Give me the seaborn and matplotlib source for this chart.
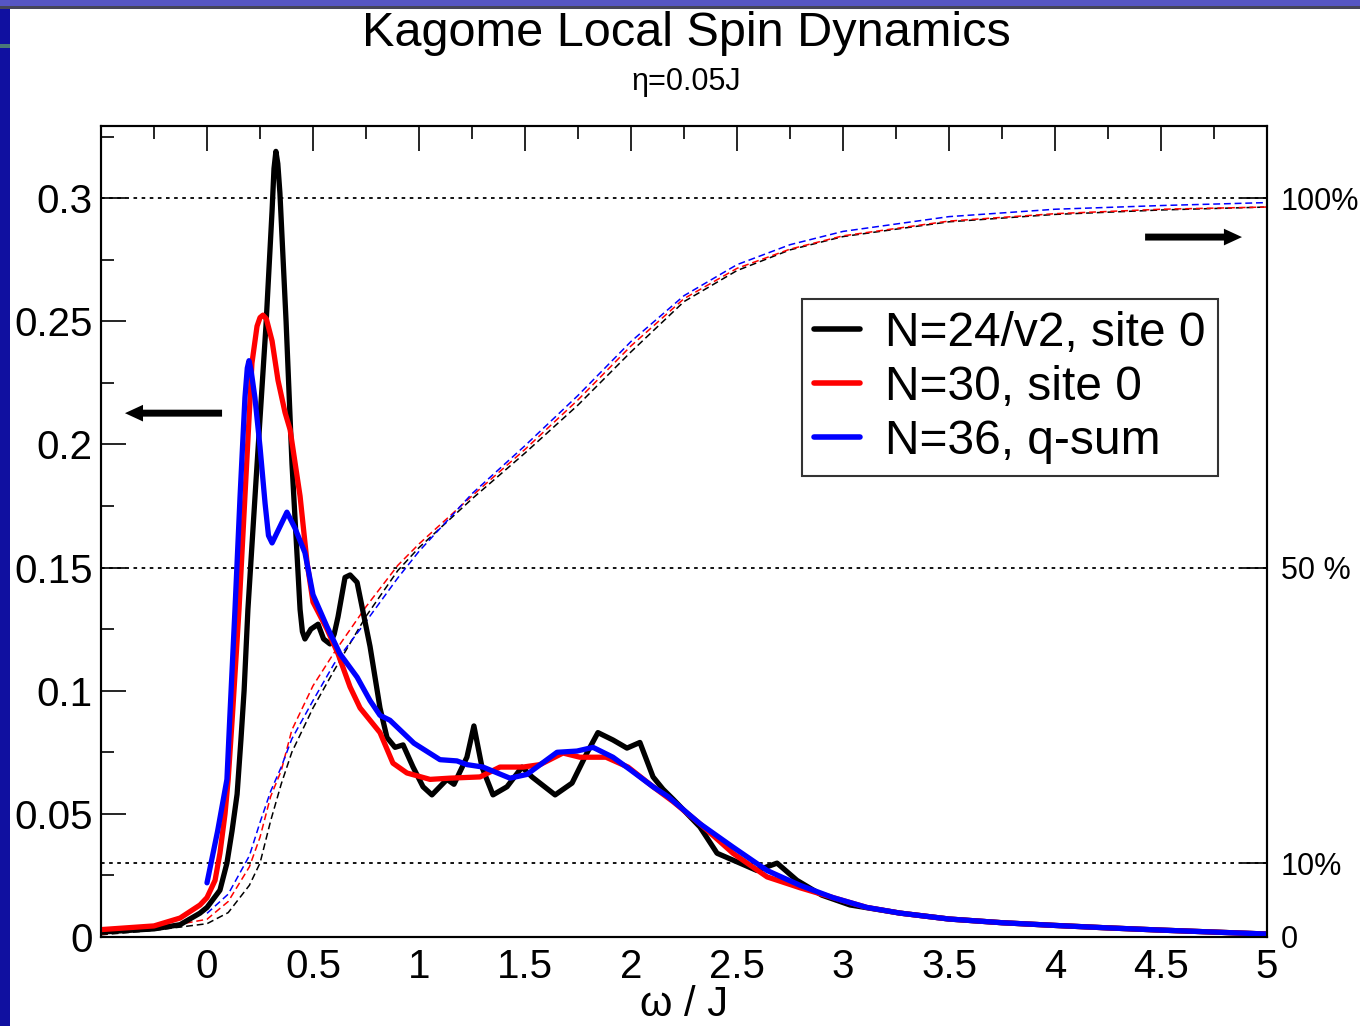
import numpy as np
import pandas as pd
import matplotlib
matplotlib.use("Agg")
import matplotlib.pyplot as plt
import seaborn as sns
from matplotlib.patches import Rectangle

# ---------------- data ----------------
series_names = ["N=24/v2, site 0", "N=30, site 0", "N=36, q-sum"]
series_colors = ["#000000", "#ff0000", "#0000ff"]

omega_n24 = [-0.5, -0.25, -0.127, -0.033, 0.0, 0.061, 0.094, 0.118, 0.142, 0.160, 0.175,
             0.193, 0.231, 0.278, 0.307, 0.316, 0.325, 0.334, 0.344, 0.373, 0.401, 0.439,
             0.450, 0.462, 0.490, 0.524, 0.550, 0.580, 0.600, 0.618, 0.651, 0.675, 0.708,
             0.769, 0.816, 0.849, 0.887, 0.925, 0.972, 1.019, 1.061, 1.132, 1.165, 1.226,
             1.259, 1.297, 1.349, 1.415, 1.486, 1.533, 1.642, 1.722, 1.792, 1.844, 1.915,
             1.981, 2.042, 2.104, 2.151, 2.198, 2.325, 2.406, 2.514, 2.594, 2.689, 2.783,
             2.900, 3.033, 3.269, 3.5, 3.75, 4.0, 4.25, 4.5, 4.75, 5.0]
spec_n24 = [0.002, 0.0033, 0.005, 0.0097, 0.012, 0.019, 0.030, 0.043, 0.058, 0.080, 0.100,
            0.133, 0.185, 0.248, 0.295, 0.312, 0.319, 0.314, 0.302, 0.250, 0.192, 0.133,
            0.124, 0.121, 0.125, 0.127, 0.121, 0.119, 0.123, 0.130, 0.146, 0.147, 0.144,
            0.118, 0.093, 0.081, 0.077, 0.078, 0.069, 0.061, 0.0577, 0.064, 0.062, 0.073,
            0.0857, 0.069, 0.0577, 0.061, 0.069, 0.065, 0.0577, 0.0625, 0.0747, 0.083, 0.080,
            0.0767, 0.079, 0.065, 0.060, 0.056, 0.0447, 0.034, 0.030, 0.027, 0.030, 0.023,
            0.017, 0.013, 0.0097, 0.0073, 0.0058, 0.0047, 0.0037, 0.0028, 0.002, 0.0012]

omega_n30 = [-0.5, -0.25, -0.127, -0.033, 0.0, 0.038, 0.061, 0.085, 0.100, 0.120, 0.151,
             0.179, 0.212, 0.236, 0.250, 0.264, 0.280, 0.307, 0.335, 0.368, 0.392, 0.439,
             0.472, 0.500, 0.566, 0.618, 0.675, 0.722, 0.816, 0.877, 0.943, 1.052, 1.146,
             1.288, 1.382, 1.491, 1.571, 1.679, 1.759, 1.882, 1.986, 2.104, 2.198, 2.325,
             2.481, 2.642, 2.797, 2.953, 3.113, 3.269, 3.5, 3.75, 4.0, 4.25, 4.5, 4.75, 5.0]
spec_n30 = [0.003, 0.0045, 0.0077, 0.013, 0.016, 0.023, 0.034, 0.050, 0.064, 0.090, 0.133,
            0.179, 0.233, 0.248, 0.2515, 0.2525, 0.251, 0.242, 0.226, 0.213, 0.206, 0.179,
            0.152, 0.136, 0.125, 0.115, 0.1015, 0.093, 0.083, 0.0706, 0.0666, 0.064, 0.0645,
            0.065, 0.069, 0.069, 0.070, 0.0747, 0.073, 0.073, 0.069, 0.061, 0.055, 0.046,
            0.034, 0.0244, 0.020, 0.016, 0.012, 0.0097, 0.0073, 0.0058, 0.0047, 0.0037,
            0.0028, 0.002, 0.0012]

omega_n36 = [0.0, 0.05, 0.094, 0.108, 0.132, 0.156, 0.179, 0.190, 0.198, 0.208, 0.226,
             0.250, 0.274, 0.290, 0.307, 0.335, 0.377, 0.415, 0.462, 0.500, 0.566, 0.627,
             0.708, 0.769, 0.816, 0.863, 0.976, 1.099, 1.179, 1.226, 1.302, 1.429, 1.509,
             1.651, 1.745, 1.821, 1.915, 1.995, 2.104, 2.175, 2.325, 2.481, 2.642, 2.797,
             2.953, 3.113, 3.269, 3.5, 3.75, 4.0, 4.25, 4.5, 4.75, 5.0]
spec_n36 = [0.022, 0.043, 0.064, 0.090, 0.133, 0.179, 0.219, 0.231, 0.234, 0.230, 0.219,
            0.199, 0.176, 0.163, 0.160, 0.165, 0.1725, 0.166, 0.156, 0.139, 0.126, 0.115,
            0.1055, 0.096, 0.090, 0.088, 0.0787, 0.072, 0.0715, 0.070, 0.069, 0.0645, 0.066,
            0.075, 0.0755, 0.077, 0.073, 0.068, 0.061, 0.057, 0.046, 0.0365, 0.027, 0.021,
            0.016, 0.012, 0.0097, 0.0073, 0.0058, 0.0047, 0.0037, 0.0028, 0.002, 0.0012]

# cumulative weight (fraction of total), right axis
cum_omega = [-0.5, -0.25, 0.0, 0.1, 0.2, 0.25, 0.3, 0.35, 0.4, 0.5, 0.6, 0.75, 0.9, 1.0,
             1.25, 1.5, 1.75, 2.0, 2.25, 2.5, 2.75, 3.0, 3.5, 4.0, 4.5, 5.0]
cum_n24 = [0.003, 0.009, 0.018, 0.033, 0.070, 0.100, 0.157, 0.207, 0.250, 0.310, 0.361,
           0.434, 0.496, 0.527, 0.593, 0.655, 0.720, 0.792, 0.860, 0.902, 0.930, 0.948,
           0.968, 0.978, 0.984, 0.988]
cum_n30 = [0.004, 0.011, 0.024, 0.048, 0.095, 0.135, 0.190, 0.225, 0.280, 0.340, 0.385,
           0.447, 0.503, 0.532, 0.597, 0.660, 0.727, 0.800, 0.864, 0.905, 0.931, 0.949,
           0.969, 0.979, 0.985, 0.988]
cum_omega_n36 = [0.0, 0.1, 0.2, 0.25, 0.3, 0.35, 0.4, 0.5, 0.6, 0.75, 0.9, 1.0, 1.25, 1.5,
                 1.75, 2.0, 2.25, 2.5, 2.75, 3.0, 3.5, 4.0, 4.5, 5.0]
cum_n36 = [0.032, 0.058, 0.110, 0.155, 0.197, 0.230, 0.268, 0.320, 0.370, 0.427, 0.486,
           0.522, 0.600, 0.665, 0.733, 0.806, 0.868, 0.910, 0.937, 0.955, 0.975, 0.985,
           0.990, 0.994]

x_major = [0, 0.5, 1, 1.5, 2, 2.5, 3, 3.5, 4, 4.5, 5]
x_labels = ["0", "0.5", "1", "1.5", "2", "2.5", "3", "3.5", "4", "4.5", "5"]
y_major = [0, 0.05, 0.1, 0.15, 0.2, 0.25, 0.3]
y_labels = ["0", "0.05", "0.1", "0.15", "0.2", "0.25", "0.3"]
pct_ticks = [0, 0.1, 0.5, 1.0]
pct_labels = ["0", "10%", "50 %", "100%"]

# ---------------- style ----------------
sns.set_style("white")
plt.rcParams["font.family"] = ["Liberation Sans", "DejaVu Sans"]
for key in ["text.color", "axes.labelcolor", "xtick.color", "ytick.color",
            "axes.edgecolor"]:
    plt.rcParams[key] = "black"

W, H = 1360, 1026
fig = plt.figure(figsize=(W / 100, H / 100), dpi=100)
fig.patch.set_facecolor("white")

# slide decoration
fig.patches.append(Rectangle((0, 0), 10 / W, 1 - 8 / H, transform=fig.transFigure,
                             facecolor="#1010a0", edgecolor="none", zorder=0))
fig.patches.append(Rectangle((0, (H - 48) / H), 10 / W, 4 / H, transform=fig.transFigure,
                             facecolor="#4a7878", edgecolor="none", zorder=1))
fig.patches.append(Rectangle((0, 1 - 6 / H), 1, 6 / H, transform=fig.transFigure,
                             facecolor="#5656c4", edgecolor="none", zorder=0))
fig.patches.append(Rectangle((0, 1 - 9 / H), 1, 3 / H, transform=fig.transFigure,
                             facecolor="#46465a", edgecolor="none", zorder=0))

L, R, T, B = 101, 1267, 126, 937
ax = fig.add_axes([L / W, 1 - B / H, (R - L) / W, (B - T) / H])
ax2 = ax.twinx()

XMIN, XMAX, YMAX = -0.5, 5.0, 0.3293
ax.set_xlim(XMIN, XMAX)
ax.set_ylim(0, YMAX)
ax2.set_ylim(0, YMAX / 0.3)

# cumulative dashed curves (right axis)
cum_sets = [(cum_omega, cum_n24), (cum_omega, cum_n30), (cum_omega_n36, cum_n36)]
for (om, cv), name, col in zip(cum_sets, series_names, series_colors):
    dfc = pd.DataFrame({"omega": om, "frac": cv})
    sns.lineplot(data=dfc, x="omega", y="frac", ax=ax2, color=col, lw=1.1,
                 estimator=None, sort=False, legend=False)
for ln in ax2.lines:
    ln.set_linestyle((0, (4.5, 2.5)))

# reference dotted lines
for yv in [1.0, 0.5, 0.1]:
    ax2.axhline(yv, color="black", lw=1.3, ls=(0, (2, 2.5)), zorder=1)

# spectral curves (left axis), drawn above the cumulative ones
ax.set_zorder(ax2.get_zorder() + 1)
ax.patch.set_visible(False)
spec_sets = [(omega_n24, spec_n24), (omega_n30, spec_n30), (omega_n36, spec_n36)]
handles = []
for (om, sv), name, col in zip(spec_sets, series_names, series_colors):
    dfs = pd.DataFrame({"omega": om, "S": sv})
    sns.lineplot(data=dfs, x="omega", y="S", ax=ax, color=col, lw=3.8,
                 estimator=None, sort=False, legend=False)
    line = ax.lines[-1]
    line.set_label(name)
    line.set_solid_joinstyle("round")
    line.set_solid_capstyle("round")
    handles.append(line)

# ticks
ax.set_xticks(x_major)
ax.set_xticklabels(x_labels)
ax.set_xticks(np.arange(-0.25, 5.0, 0.5), minor=True)
ax.set_yticks(y_major)
ax.set_yticklabels(y_labels)
ax.set_yticks(np.arange(0.025, 0.33, 0.05), minor=True)
ax.tick_params(axis="both", which="major", direction="in", length=18, width=1.2,
               labelsize=29, top=True, right=False, colors="black")
ax.tick_params(axis="both", which="minor", direction="in", length=9, width=1.2,
               top=True, right=False, colors="black")
ax.tick_params(axis="x", which="major", pad=8)
ax.tick_params(axis="y", which="major", pad=6)
ax2.set_yticks(pct_ticks)
ax2.set_yticklabels(pct_labels)
ax2.tick_params(axis="y", direction="in", length=18, width=1.2, labelsize=22, pad=10,
                colors="black")
ax.set_xlabel("ω / J", fontsize=30, color="black")
ax.xaxis.set_label_coords(0.5, (B - 1016) / (B - T))
ax.xaxis.label.set_va("baseline")
ax.set_ylabel("")
ax2.set_ylabel("")

for a in (ax, ax2):
    for sp in a.spines.values():
        sp.set_linewidth(1.5)
        sp.set_color("black")

# arrows
arrow_kw = dict(facecolor="black", edgecolor="black", width=5, headwidth=12,
                headlength=13, shrink=0, lw=0)
ax.annotate("", xy=(-0.387, 0.2127), xytext=(0.071, 0.2127), arrowprops=arrow_kw)
ax.annotate("", xy=(4.882, 0.2842), xytext=(4.425, 0.2842), arrowprops=arrow_kw)

# legend
leg = ax.legend(handles=handles, loc="upper left", bbox_to_anchor=(0.601, 0.787),
                borderaxespad=0, fontsize=34.5, frameon=True, fancybox=False,
                handlelength=0.97, handletextpad=0.52, borderpad=0.25,
                labelspacing=0.19)
leg.get_frame().set_edgecolor("black")
leg.get_frame().set_linewidth(1.5)
for lh in leg.get_lines():
    lh.set_linewidth(4)
for txt in leg.get_texts():
    txt.set_color("black")

# titles
fig.text(686 / W, 1 - 33 / H, "Kagome Local Spin Dynamics", ha="center", va="center",
         fontsize=35, color="black")
fig.text(686 / W, 1 - 82 / H, "η=0.05J", ha="center", va="center", fontsize=22,
         color="black")

fig.savefig("out.png", dpi=100)
